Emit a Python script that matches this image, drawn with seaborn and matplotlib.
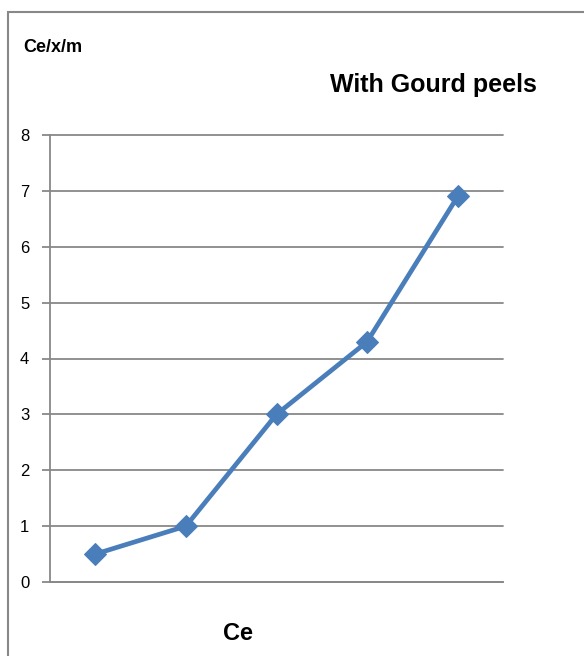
import matplotlib
matplotlib.use("Agg")
import matplotlib.pyplot as plt
import matplotlib.patches as mpatches
import seaborn as sns
import pandas as pd

# data
points = [1, 2, 3, 4, 5]
ce_xm = [0.5, 1.0, 3.0, 4.3, 6.9]
y_ticks = [0, 1, 2, 3, 4, 5, 6, 7, 8]

sns.set_style("white")
plt.rcParams["font.family"] = ["Liberation Sans Narrow", "Liberation Sans", "DejaVu Sans"]
plt.rcParams["text.color"] = "black"
plt.rcParams["ytick.color"] = "black"

df = pd.DataFrame({"point": points, "ce_xm": ce_xm})

fig = plt.figure(figsize=(5.84, 6.56), dpi=100)
ax = fig.add_axes([50 / 584, 1 - 582 / 656, 453 / 584, 447 / 656])

sns.lineplot(data=df, x="point", y="ce_xm", ax=ax, color="#4A7EBB", linewidth=3.4,
             marker="D", markersize=11, markeredgecolor="#4A7EBB", zorder=3)

ax.set_xlim(0.5, 5.5)
ax.set_ylim(0, 8)
ax.set_yticks(y_ticks)
ax.set_xticks([])
ax.grid(axis="y", color="#888888", linewidth=1.3)
for gl in ax.get_ygridlines():
    gl.set_clip_on(False)
ax.set_axisbelow(True)
for side in ["top", "right"]:
    ax.spines[side].set_visible(False)
ax.spines["left"].set_color("#888888")
ax.spines["bottom"].set_color("#888888")
ax.spines["left"].set_linewidth(1.3)
ax.spines["bottom"].set_linewidth(1.3)
ax.tick_params(axis="y", length=6, width=1.3, color="#888888", labelcolor="black",
               labelsize=12, pad=9, left=True)
ax.set_xlabel("")
ax.set_ylabel("")

fig.text(23 / 584, 1 - 47 / 656, "Ce/x/m", fontsize=13, fontweight="bold", va="center")
fig.text(433 / 584, 1 - 85 / 656, "With Gourd peels", fontsize=18, fontweight="bold",
         ha="center", va="center")
fig.text(238 / 584, 1 - 634 / 656, "Ce", fontsize=17, fontweight="bold",
         ha="center", va="center")

# chart frame (cut off on the right and bottom in the reference)
fig.add_artist(mpatches.Rectangle((8 / 584, -0.2), 1.5, 1.2 - 12 / 656, transform=fig.transFigure,
                                  fill=False, edgecolor="#888888", linewidth=1.5))

fig.savefig("out.png", dpi=100)
